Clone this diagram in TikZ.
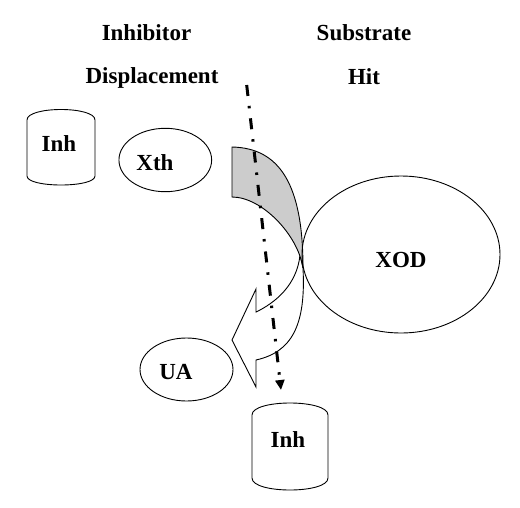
\documentclass[tikz,border=0pt]{standalone}
\usepackage{fontspec}
\setmainfont{Liberation Serif}
\usetikzlibrary{shapes.geometric,arrows.meta}
\definecolor{bandgray}{RGB}{204,204,204}
\begin{document}
\begin{tikzpicture}[x=1pt,y=-1pt,
  lbl/.style={font=\fontsize{23}{27}\selectfont\bfseries, inner sep=0pt, anchor=base},
  oval/.style={ellipse, draw, line width=0.9pt, inner sep=0pt},
  thinline/.style={line width=0.9pt},
  hitline/.style={line width=3pt, dash pattern=on 11pt off 10pt on 2.5pt off 10pt, -{Triangle[length=10pt,width=9pt]}}]
\useasboundingbox (0,0) rectangle (520,507);
% headings
\node[lbl] (h1) at (146.5,40.7) {Inhibitor};
\node[lbl] (h2) at (152,83.7) {Displacement};
\node[lbl] (h3) at (364,40.7) {Substrate};
\node[lbl] (h4) at (364,84) {Hit};
% cylinders
\draw[thinline] (27,120) -- (27,176) .. controls (27,188) and (95,188) .. (95,176) -- (95,120) .. controls (95,106) and (27,106) .. (27,120) -- cycle;
\draw[thinline] (252,415) -- (252,478) .. controls (252,494) and (328,494) .. (328,478) -- (328,415) .. controls (328,399) and (252,399) .. (252,415) -- cycle;
\node[lbl] (inh1) at (59,151.7) {Inh};
\node[lbl] (inh2) at (288,447.7) {Inh};
% ellipses
\node[oval, minimum width=92.7pt, minimum height=63.4pt] (xth) at (165.3,160) {};
\node[lbl] (xtht) at (155,170) {Xth};
\node[oval, minimum width=93pt, minimum height=63pt] (ua) at (186.5,369.5) {};
\node[lbl] (uat) at (176,379) {UA};
% curved arrow
\filldraw[thinline, fill=white] (303,268) .. controls (306,325) and (292,352) .. (256,360) -- (256,387) -- (232,340) -- (256,289) -- (256,312) .. controls (275,303) and (297,285) .. (300,255) -- cycle;
\filldraw[thinline, fill=bandgray] (232,147) .. controls (280,148) and (303,185) .. (303,268) .. controls (298,235) and (262,197) .. (232,197) -- cycle;
% XOD
\node[oval, minimum width=198pt, minimum height=157pt] (xod) at (401,254.5) {};
\node[lbl] (xodt) at (401,267.7) {XOD};
% hit line
\coordinate (hs) at (246.7,85);
\coordinate (he) at (281,390);
\draw[hitline] (hs) -- (he);
\end{tikzpicture}
\end{document}
